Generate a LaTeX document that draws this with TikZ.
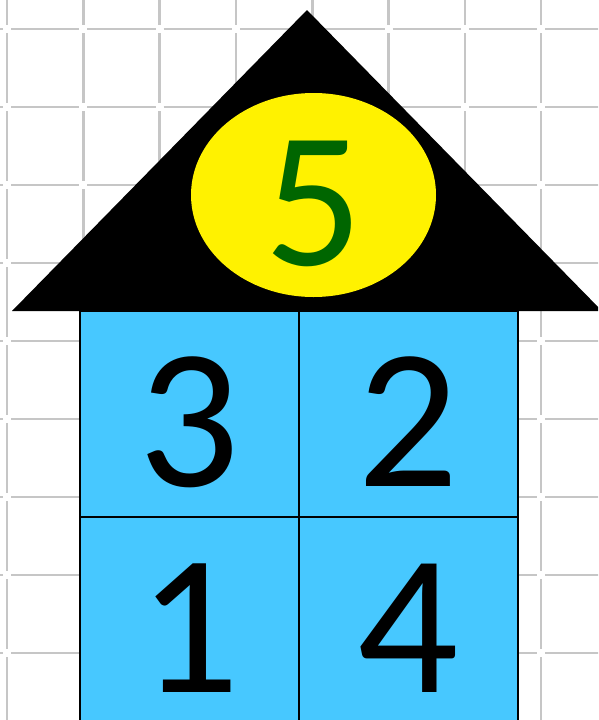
\documentclass[tikz,border=0pt]{standalone}
\usepackage{fontspec}
\setmainfont{Carlito}
\usetikzlibrary{positioning,shapes.geometric}
\definecolor{wallblue}{RGB}{71,200,255}
\definecolor{numgreen}{RGB}{0,102,0}
\definecolor{gridgray}{RGB}{198,198,198}

\begin{document}
\begin{tikzpicture}[
  x=1pt,y=-1pt,node distance=0pt,
  grd/.style={gridgray,line width=2.6pt},
  roof/.style={fill=black},
  cell/.style={rectangle,draw,line width=1.5pt,fill=wallblue,minimum width=219pt,minimum height=206pt,
    inner sep=0pt,outer sep=0pt,font=\fontsize{200}{200}\selectfont,text height=144pt,text depth=0pt},
  sun/.style={ellipse,fill=yellow,text=numgreen,minimum width=245pt,minimum height=204pt,
    inner sep=0pt,font=\fontsize{194}{194}\selectfont,text height=140pt,text depth=0pt}
]
\useasboundingbox (0,0) rectangle (598,720);
\clip (0,0) rectangle (598,720);
\fill[white] (0,0) rectangle (598,720);
% graph paper
\foreach \j in {0,...,8}{
  \foreach \i in {-1,...,7}{
    \draw[grd] ({7+76.3*\i+4},{29+78*\j}) -- ({7+76.3*(\i+1)-4},{29+78*\j});
  }
}
\foreach \i in {0,...,7}{
  \foreach \j in {-1,...,8}{
    \draw[grd] ({7+76.3*\i},{29+78*\j+4}) -- ({7+76.3*\i},{29+78*(\j+1)-4});
  }
}
% house
\coordinate (eaveL) at (12,311);
\coordinate (eaveR) at (602,311);
\coordinate (apex) at (307,10);
\fill[roof] (eaveL) -- (apex) -- (eaveR) -- cycle;
\node[sun] (top) at (313.5,195) {5};
\node[cell] (c3) at (189.5,414) {3};
\node[cell,right=of c3] (c2) {2};
\node[cell,below=of c3] (c1) {1};
\node[cell,right=of c1] (c4) {4};
\end{tikzpicture}
\end{document}
